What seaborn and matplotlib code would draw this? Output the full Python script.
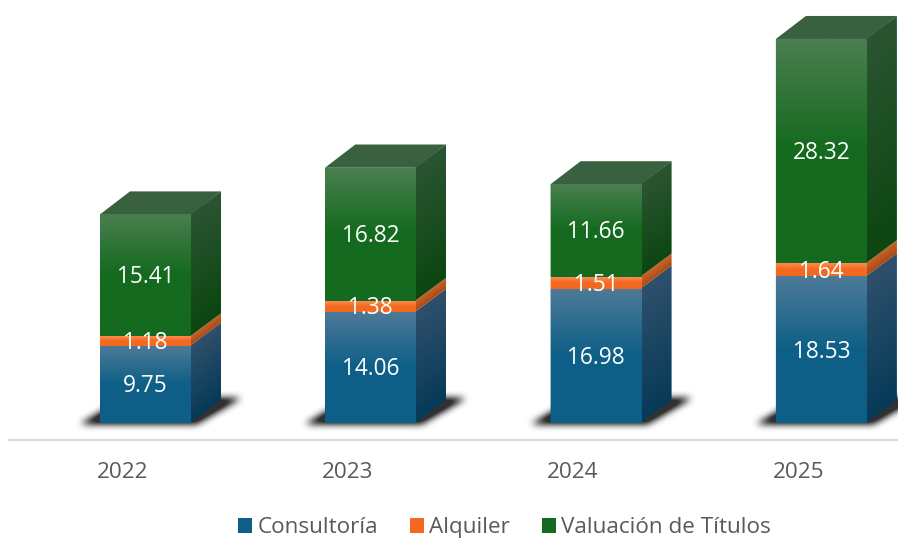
import numpy as np
import pandas as pd
import matplotlib
matplotlib.use("Agg")
import matplotlib.pyplot as plt
from matplotlib.patches import Patch, Polygon
from matplotlib.path import Path
import seaborn as sns

years = ["2022", "2023", "2024", "2025"]
consultoria = [9.75, 14.06, 16.98, 18.53]
alquiler = [1.18, 1.38, 1.51, 1.64]
valuacion = [15.41, 16.82, 11.66, 28.32]
names = ["Consultoría", "Alquiler", "Valuación de Títulos"]

W, H = 898, 538
sns.set_theme(style="white")
plt.rcParams["font.family"] = ["Open Sans", "DejaVu Sans"]

# pixel layout
LEFT, RIGHT, BASE_AXIS = 9, 898, 440
ZERO_PX, PX_PER_UNIT = 423, 7.92
CENTER0, STEP, BAR_W = 145.5, 225.3, 91
DX_PX, DY_PX = 30, 23
TICK_SHIFT_PX = 23

fig = plt.figure(figsize=(W / 100, H / 100), dpi=100)
ax = fig.add_axes([LEFT / W, 1 - BASE_AXIS / H, (RIGHT - LEFT) / W, BASE_AXIS / H])
ylo = -(BASE_AXIS - ZERO_PX) / PX_PER_UNIT
yhi = ZERO_PX / PX_PER_UNIT
xlo = (LEFT - CENTER0) / STEP
xhi = (RIGHT - CENTER0) / STEP
width = BAR_W / STEP
dx = DX_PX / STEP
dy = DY_PX / PX_PER_UNIT

styles = [
    dict(base="#0e5f87", front_top="#4d7a98", side_top="#2f506c", side_bot="#063a58"),
    dict(base="#f2691f", front_top="#ff8c4d", side_top="#c8622c", side_bot="#a84a14"),
    dict(base="#146a1e", front_top="#4a7f50", side_top="#2b5532", side_bot="#0c4610"),
]
top_face = "#39613f"


def rgb(c):
    return np.array(matplotlib.colors.to_rgb(c))


def ramp(t, top, base, end, knee=0.5):
    t = np.clip(t, 0, 1)[..., None]
    a = top + (base - top) * np.clip(t / knee, 0, 1)
    b = base + (end - base) * np.clip((t - knee) / (1 - knee), 0, 1)
    return np.where(t < knee, a, b)


def clipped_image(arr, extent, verts, z):
    im = ax.imshow(arr, extent=extent, origin="upper", aspect="auto", zorder=z, interpolation="bilinear")
    poly = Polygon(verts, closed=True, transform=ax.transData, fc="none", ec="none")
    ax.add_patch(poly)
    im.set_clip_path(poly)


def ground_shadow(xc):
    l, r = xc - width / 2, xc + width / 2
    gx = np.linspace(l - 60 / STEP, r + 90 / STEP, 241)
    gy = np.linspace(-14 / PX_PER_UNIT, dy + 18 / PX_PER_UNIT, 55)
    xx, yy = np.meshgrid(gx, gy)
    outline = [(l - 20 / STEP, -1 / PX_PER_UNIT), (r + 6 / STEP, -1 / PX_PER_UNIT),
               (r + 50 / STEP, 25 / PX_PER_UNIT), (r + 20 / STEP, 25 / PX_PER_UNIT),
               (l + 6 / STEP, 14 / PX_PER_UNIT)]
    mask = Path(outline).contains_points(np.c_[xx.ravel(), yy.ravel()]).reshape(xx.shape).astype(float)
    kernel = np.ones(7) / 7
    for _ in range(3):
        mask = np.apply_along_axis(lambda v: np.convolve(v, kernel, mode="same"), 0, mask)
        mask = np.apply_along_axis(lambda v: np.convolve(v, kernel, mode="same"), 1, mask)
    img = np.zeros(mask.shape + (4,))
    img[..., :3] = 0.1
    img[..., 3] = np.clip(mask * 1.25, 0, 0.9)
    ax.imshow(img, extent=(gx[0], gx[-1], gy[0], gy[-1]), origin="lower", aspect="auto",
              zorder=0.5, interpolation="bilinear")


for i in range(len(years)):
    ground_shadow(i)

# front faces through seaborn
bottoms = np.zeros(len(years))
tables = [consultoria, alquiler, valuacion]
for vals, st, name in zip(tables, styles, names):
    df = pd.DataFrame({"year": years, "value": vals})
    n_before = len(ax.patches)
    sns.barplot(data=df, x="year", y="value", bottom=bottoms, color=st["base"], saturation=1,
                width=width, ax=ax, zorder=2, linewidth=0, errorbar=None)
    for p in ax.patches[n_before:]:
        p.set_snap(False)
    for i, v in enumerate(vals):
        b, t = bottoms[i], bottoms[i] + v
        l, r = i - width / 2, i + width / 2
        # front gradient
        gr = np.linspace(0, 1, 64)[:, None]
        front = ramp(gr, rgb(st["front_top"]), rgb(st["base"]), rgb(st["base"])).reshape(64, 1, 3)
        clipped_image(front, (l, r, b, t), [(l, b), (r, b), (r, t), (l, t)], 3)
        # side gradient, following the skew of the face
        nx, ny = 30, 160
        us = np.linspace(0, 1, nx)
        vs = np.linspace(0, 1, ny)
        uu, vv = np.meshgrid(us, vs)
        span = (t + dy) - b
        yy = (t + dy) - vv * span
        frac = ((t + uu * dy) - yy) / max(v, 1e-6)
        mid = (rgb(st["side_top"]) + rgb(st["side_bot"])) / 2
        side = ramp(frac, rgb(st["side_top"]), mid, rgb(st["side_bot"]))
        clipped_image(side, (r - 1 / STEP, r + dx, b, t + dy),
                      [(r - 1 / STEP, b), (r + dx, b + dy), (r + dx, t + dy), (r - 1 / STEP, t)], 2.5)
        ax.text(i, (b + t) / 2 - 2 / PX_PER_UNIT, f"{v:.2f}", ha="center", va="center", color="white",
                fontsize=16.3, zorder=6)
    bottoms = bottoms + np.array(vals)

# top faces
for i, t in enumerate(bottoms):
    l, r = i - width / 2, i + width / 2
    ax.add_patch(Polygon([(l, t), (r, t), (r + dx, t + dy), (l + dx, t + dy)], closed=True,
                         fc=top_face, ec="none", zorder=2.8))

ax.set_xlim(xlo, xhi)
ax.set_ylim(ylo, yhi)
ax.set_xlabel("")
ax.set_ylabel("")
ax.set_yticks([])
ax.set_xticks([i - TICK_SHIFT_PX / STEP for i in range(len(years))], years)
ax.tick_params(axis="x", length=0, pad=16, labelsize=16.2, labelcolor="#595959")
for s in ["top", "left", "right"]:
    ax.spines[s].set_visible(False)
ax.spines["bottom"].set_color("#d9d9d9")
ax.spines["bottom"].set_linewidth(1.6)
ax.patch.set_alpha(0)

handles = [Patch(fc=st["base"], ec="none", label=n) for st, n in zip(styles, names)]
leg = fig.legend(handles=handles, loc="center", bbox_to_anchor=(504.5 / W, 1 - 527.5 / H), ncol=3,
                 frameon=False, fontsize=16.2, handlelength=0.62, handleheight=0.65,
                 handletextpad=0.25, columnspacing=1.4, labelcolor="#595959",
                 borderpad=0, borderaxespad=0)

# swatch gradients
fig.canvas.draw()
for patch, st in zip(leg.get_patches(), styles):
    bb = patch.get_window_extent()
    w, h = max(int(round(bb.width)), 1), max(int(round(bb.height)), 1)
    g = np.linspace(0, 1, h)[:, None]
    arr = ramp(g, rgb(st["front_top"]), rgb(st["base"]), rgb(st["base"]), knee=0.6).reshape(h, 1, 3)
    arr = np.repeat(arr, w, axis=1)
    fig.figimage(arr, xo=int(round(bb.x0)), yo=int(round(bb.y0)), origin="upper", zorder=5)

fig.savefig("out.png", dpi=100)
